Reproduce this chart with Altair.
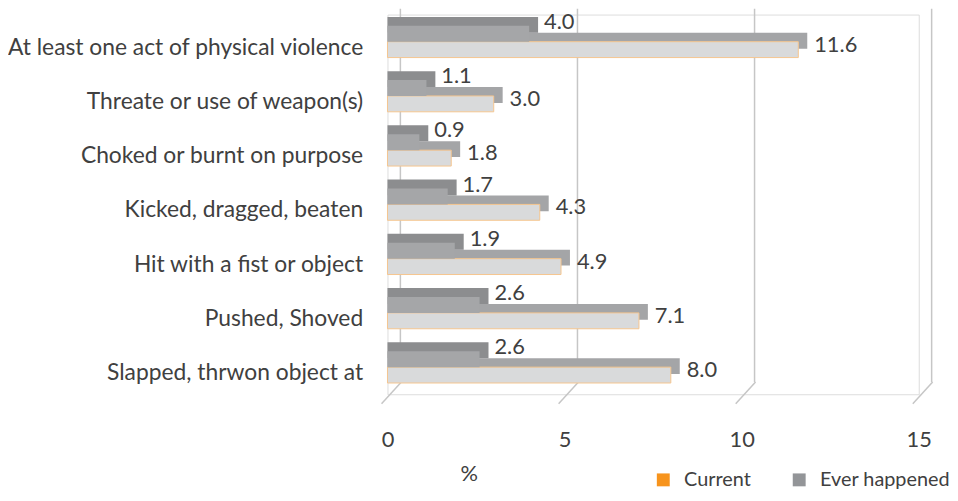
import altair as alt
import pandas as pd

categories = [
    "At least one act of physical violence",
    "Threate or use of weapon(s)",
    "Choked or burnt on purpose",
    "Kicked, dragged, beaten",
    "Hit with a fist or object",
    "Pushed, Shoved\u00a0",
    "Slapped, thrwon object at",
]
current = [4.0, 1.1, 0.9, 1.7, 1.9, 2.6, 2.6]
ever_happened = [11.6, 3.0, 1.8, 4.3, 4.9, 7.1, 8.0]
series_names = ["Current", "Ever happened"]
x_ticks = [0, 5, 10, 15]

rows = []
for c, v in zip(categories, current):
    rows.append({"cat": c, "series": "Current", "value": v, "label": f"{v:.1f}"})
for c, v in zip(categories, ever_happened):
    rows.append({"cat": c, "series": "Ever happened", "value": v, "label": f"{v:.1f}"})
df = pd.DataFrame(rows)
ticks_df = pd.DataFrame({"t": x_ticks})

FONT = "Lato"
TXT = "#404040"
FS = 22
W = 535.5
H = 382.7
D = 9  # 3D depth in px
BH = 16

xscale = alt.Scale(domain=[0, 15], nice=False)
yscale = alt.Scale(domain=categories, paddingInner=0.415, paddingOuter=0.2075)

base = alt.Chart(df)
x_enc = alt.X("value:Q", scale=xscale, stack=None,
              axis=alt.Axis(values=x_ticks, grid=False, domain=False, ticks=False,
                            labelFlush=False,
                            labelFont=FONT, labelFontSize=FS, labelColor=TXT,
                            labelPadding=36, title="%", titleFont=FONT,
                            titleFontSize=FS, titleFontWeight="normal", titleColor=TXT,
                            titleX=82, titleY=80, titleAlign="center",
                            titleBaseline="middle"))
y_enc = alt.Y("cat:N", scale=yscale, sort=categories,
              axis=alt.Axis(title=None, domain=False, ticks=False, labelFont=FONT,
                            labelFontSize=23, labelColor=TXT, labelPadding=25,
                            labelOffset=6, labelLimit=400))

grid_v = alt.Chart(ticks_df).mark_rule(color="#c6c6c6", strokeWidth=1.5, xOffset=13).encode(
    x=alt.X("t:Q", scale=xscale), y=alt.value(-6), y2=alt.value(H - 12.4))
grid_d = alt.Chart(ticks_df).mark_rule(color="#c6c6c6", strokeWidth=1.5, xOffset=-6, x2Offset=14).encode(
    x=alt.X("t:Q", scale=xscale), x2="t:Q", y=alt.value(H + 9.6), y2=alt.value(H - 12.4))

cur = base.transform_filter(alt.datum.series == "Current")
evr = base.transform_filter(alt.datum.series == "Ever happened")

ev_back = evr.mark_bar(color="#a4a5a7", height=BH, yOffset=8 - D, xOffset=D, x2Offset=D).encode(x=x_enc, y=y_enc)
ev_front = evr.mark_bar(color="#d9dadb", stroke="#f5c58f", strokeWidth=1, height=BH, yOffset=8).encode(x=x_enc, y=y_enc)
cu_back = cur.mark_bar(color="#8c8d8f", height=BH, yOffset=-8 - D, xOffset=D, x2Offset=D).encode(x=x_enc, y=y_enc)
cu_front = cur.mark_bar(color="#a5a6a8", height=BH, yOffset=-8).encode(x=x_enc, y=y_enc)

cu_text = cur.mark_text(align="left", baseline="middle", dx=15, dy=-20, font=FONT,
                        fontSize=FS, color=TXT).encode(x=x_enc, y=y_enc, text="label:N")
ev_text = evr.mark_text(align="left", baseline="middle", dx=16, dy=3, font=FONT,
                        fontSize=FS, color=TXT).encode(x=x_enc, y=y_enc, text="label:N")

legend_layer = base.mark_square(opacity=0).encode(
    x=x_enc, y=y_enc,
    color=alt.Color("series:N",
                    scale=alt.Scale(domain=series_names, range=["#f7941d", "#939598"]),
                    legend=alt.Legend(orient="none", legendX=268, legendY=459,
                                      direction="horizontal", title=None,
                                      symbolType="square", symbolSize=169,
                                      symbolOpacity=1, symbolStrokeWidth=0,
                                      labelFont=FONT, labelFontSize=20, labelColor=TXT,
                                      labelOffset=11, columnPadding=38)))

chart = alt.layer(grid_v, grid_d, ev_back, ev_front, cu_back, cu_front, cu_text, ev_text,
                  legend_layer).properties(
    width=W, height=H,
    autosize=alt.AutoSizeParams(type="none"),
    padding={"left": 382.5, "top": 4.7, "right": 31.5, "bottom": 97.6},
).configure_view(stroke=None).configure(background="white")

chart.save("out.html", embed_options={"renderer": "svg", "actions": False})
